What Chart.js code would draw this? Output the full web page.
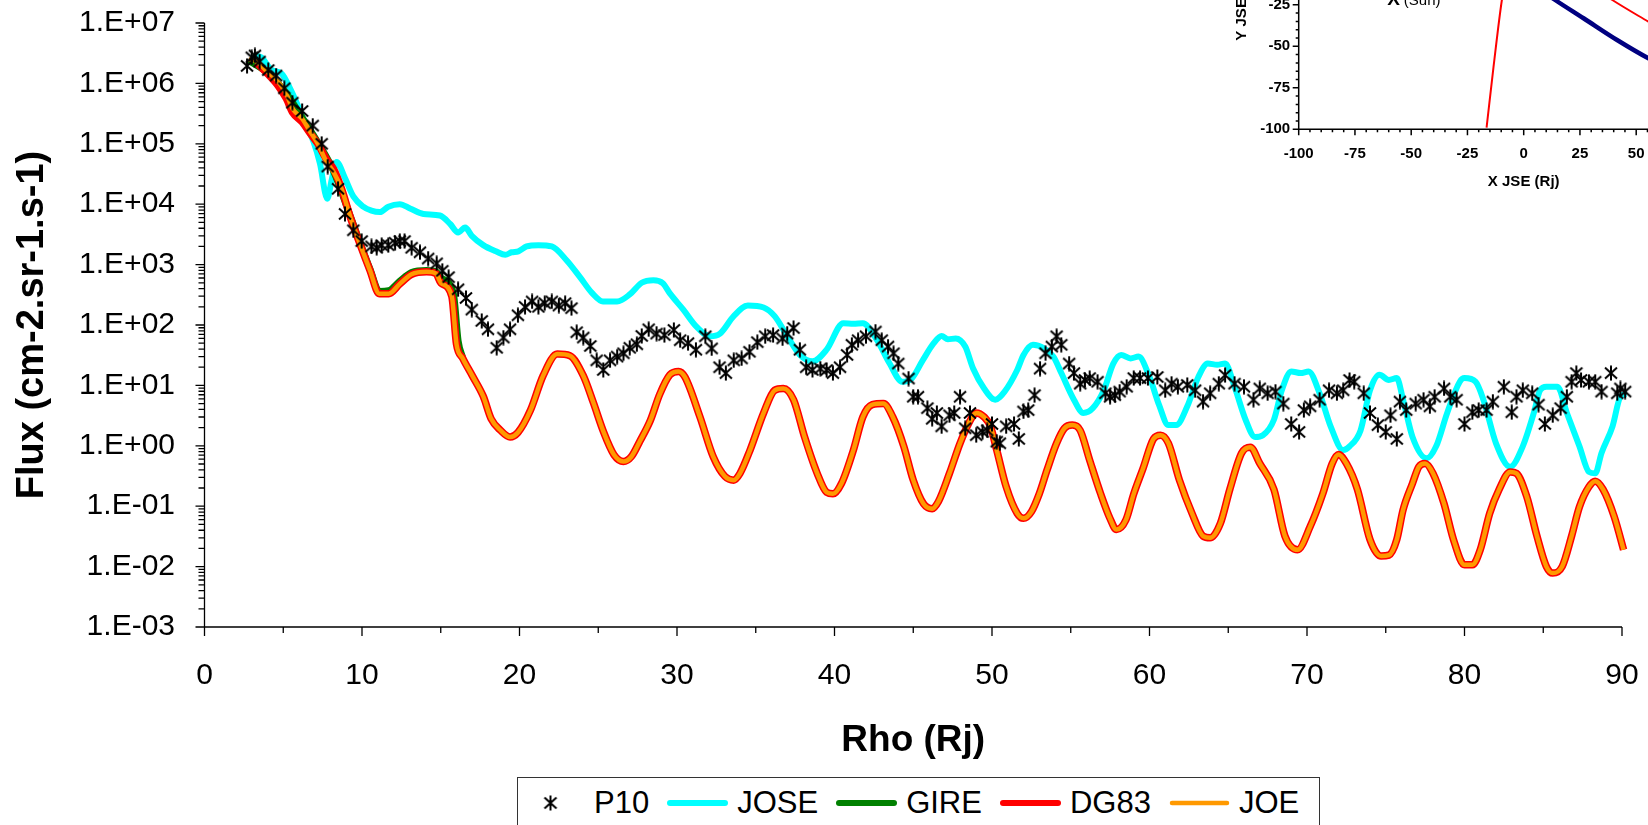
<!DOCTYPE html>
<html>
<head>
<meta charset="utf-8">
<script src="https://cdn.jsdelivr.net/npm/chart.js@4.4.1/dist/chart.umd.min.js"></script>
<style>
html, body { margin: 0; padding: 0; width: 1648px; height: 825px; overflow: hidden; background: #fff; }
#main { position: absolute; left: 0; top: 0; }
#inset { position: absolute; left: 1200px; top: -140px; background: #fff; }
#legend { position: absolute; left: 517px; top: 777px; width: 803px; height: 52px; box-sizing: border-box;
  border: 1px solid #333; background: #fff; display: flex; align-items: center; padding-left: 5px;
  font: 31px "Liberation Sans", Arial, sans-serif; color: #000; }
.item { display: flex; align-items: center; margin-right: 17px; }
.item canvas { margin-right: 8px; }
</style>
</head>
<body>
<canvas id="main" width="1648" height="825"></canvas>
<canvas id="inset" width="600" height="335"></canvas>
<div id="legend"></div>
<script>
// ---- data ----
var xTicks = [0, 10, 20, 30, 40, 50, 60, 70, 80, 90];
var yTicks = [1e-3, 1e-2, 1e-1, 1, 1e1, 1e2, 1e3, 1e4, 1e5, 1e6, 1e7];
var yTickLabels = ['1.E-03', '1.E-02', '1.E-01', '1.E+00', '1.E+01', '1.E+02', '1.E+03', '1.E+04', '1.E+05', '1.E+06', '1.E+07'];

var p10X = [2.7, 3.0, 3.2, 3.5, 4.05, 4.55, 5.07, 5.58, 6.2, 6.87,
  7.44, 7.82, 8.48, 8.92, 9.45, 9.98, 10.6, 10.93, 11.25, 11.67,
  12.1, 12.4, 12.7, 13.15, 13.68, 14.2, 14.74, 15.1, 15.5, 16.1,
  16.6, 16.97, 17.6, 18.0, 18.55, 18.98, 19.4, 19.9, 20.35, 20.8,
  21.2, 21.6, 22.05, 22.5, 22.9, 23.3, 23.63, 24.05, 24.5, 24.9,
  25.32, 25.75, 26.2, 26.6, 27.0, 27.45, 27.76, 28.2, 28.7, 29.2,
  29.8, 30.2, 30.7, 31.2, 31.8, 32.2, 32.7, 33.1, 33.6, 34.1,
  34.6, 35.1, 35.6, 36.1, 36.7, 37.0, 37.4, 37.8, 38.2, 38.6,
  39.1, 39.5, 39.9, 40.35, 40.8, 41.1, 41.5, 42.0, 42.6, 43.0,
  43.4, 43.75, 44.05, 44.7, 45.0, 45.3, 45.9, 46.2, 46.5, 46.8,
  47.3, 47.6, 47.97, 48.3, 48.6, 49.0, 49.4, 49.7, 50.0, 50.3,
  50.5, 50.9, 51.4, 51.7, 52.0, 52.3, 52.7, 53.05, 53.4, 53.8,
  54.1, 54.4, 54.9, 55.2, 55.6, 55.9, 56.2, 56.7, 57.2, 57.5,
  57.8, 58.1, 58.55, 59.0, 59.4, 59.9, 60.5, 61.0, 61.4, 61.8,
  62.4, 62.9, 63.4, 63.85, 64.4, 64.8, 65.4, 66.0, 66.6, 67.0,
  67.5, 68.0, 68.5, 69.0, 69.5, 69.8, 70.2, 70.8, 71.4, 71.9,
  72.3, 72.7, 73.0, 73.6, 74.0, 74.5, 75.0, 75.3, 75.7, 75.9,
  76.3, 76.9, 77.4, 77.8, 78.1, 78.7, 79.1, 79.5, 80.0, 80.5,
  80.9, 81.4, 81.8, 82.5, 83.0, 83.3, 83.7, 84.3, 84.7, 85.1,
  85.6, 86.1, 86.5, 86.8, 87.1, 87.4, 87.9, 88.3, 88.7, 89.3,
  89.7, 89.9, 90.2];
var p10Y = [1.95e6, 2.7e6, 2.9e6, 2.3e6, 1.66e6, 1.35e6, 8.3e5, 4.8e5, 3.5e5, 2.0e5,
  1.0e5, 4.2e4, 1.8e4, 6.9e3, 3.7e3, 2.45e3, 2.0e3, 1.9e3, 2.1e3, 2.1e3,
  2.3e3, 2.45e3, 2.45e3, 1.9e3, 1.6e3, 1.26e3, 1.05e3, 790, 620, 390,
  280, 180, 117, 85, 42, 62, 85, 145, 200, 245,
  200, 230, 245, 210, 230, 190, 76, 62, 45, 26,
  18, 26, 30, 34, 42, 48, 66, 85, 72, 68,
  83, 56, 50, 39, 65, 41, 20, 16, 26, 28,
  36, 52, 65, 68, 60, 72, 89, 39, 20, 18,
  19, 18, 16, 20, 32, 47, 56, 65, 78, 56,
  44, 34, 23, 13, 6.5, 6.5, 4.2, 2.8, 3.5, 2.1,
  3.2, 3.5, 6.5, 1.95, 3.5, 1.5, 1.7, 1.8, 2.3, 1.17,
  1.1, 2.1, 2.3, 1.3, 3.7, 3.9, 6.9, 19, 34, 44,
  65, 47, 23, 16, 10.7, 12.3, 13.2, 11.5, 7.4, 6.5,
  6.9, 7.9, 9.5, 13.2, 13.2, 13.2, 13.8, 8.3, 10.7, 9.5,
  10.2, 8.3, 5.4, 7.4, 10.7, 14.8, 10.7, 9.5, 5.8, 8.9,
  7.4, 7.9, 5.0, 2.3, 1.7, 3.9, 4.5, 5.8, 8.3, 7.4,
  8.3, 12.3, 11.5, 7.4, 3.5, 2.2, 1.7, 3.2, 1.3, 5.4,
  3.9, 5.0, 5.8, 4.5, 6.5, 8.9, 6.5, 5.8, 2.3, 3.6,
  3.9, 3.9, 5.4, 9.5, 3.6, 6.5, 8.3, 7.4, 4.8, 2.3,
  3.2, 4.2, 6.5, 11.5, 16, 12.3, 11.5, 11.5, 7.9, 16,
  7.4, 8.9, 7.9];

var joseX = [3.1, 3.6, 4.27, 4.9, 5.43, 5.85, 6.38, 6.91, 7.33, 7.8,
  8.07, 8.39, 8.92, 9.45, 10.08, 10.6, 11.14, 11.67, 12.4, 13.05,
  13.9, 14.95, 15.6, 16.1, 16.55, 16.97, 17.7, 18.5, 19.1, 19.5,
  19.93, 20.45, 21.2, 22.05, 23.0, 23.84, 24.6, 25.3, 26.2, 27.0,
  27.76, 28.5, 29.1, 29.56, 30.4, 31.25, 32.1, 32.73, 33.6, 34.5,
  35.5, 36.2, 36.96, 37.8, 38.6, 39.5, 40.56, 41.2, 41.8, 42.7,
  43.5, 44.3, 44.9, 45.6, 46.3, 46.8, 47.2, 47.7, 48.3, 48.8,
  49.5, 50.2, 50.8, 51.6, 52.0, 52.6, 53.3, 53.9, 54.4, 55.2,
  55.8, 56.4, 57.1, 57.7, 58.2, 58.8, 59.3, 60.0, 60.6, 61.2,
  61.7, 62.4, 63.1, 63.7, 64.3, 64.8, 65.4, 66.1, 66.7, 67.2,
  67.9, 68.4, 69.0, 69.6, 70.1, 70.8, 71.5, 72.3, 72.7, 73.4,
  74.0, 74.6, 75.2, 75.7, 76.1, 76.7, 77.6, 78.2, 78.9, 79.7,
  80.0, 80.7, 81.2, 82.0, 82.9, 83.7, 84.4, 84.8, 85.2, 85.9,
  86.5, 87.3, 87.9, 88.3, 88.7, 89.4, 89.9, 90.3, 90.6];
var joseY = [2.9e6, 2.7e6, 1.66e6, 1.45e6, 8.3e5, 4.8e5, 2.2e5, 1.1e5, 4.7e4, 1.23e4,
  2.5e4, 5.0e4, 2.7e4, 1.35e4, 9.1e3, 7.8e3, 7.4e3, 9.1e3, 1.0e4, 8.5e3,
  6.9e3, 6.5e3, 4.7e3, 3.4e3, 4.1e3, 3.0e3, 2.1e3, 1.66e3, 1.45e3, 1.6e3,
  1.66e3, 2.0e3, 2.1e3, 2.0e3, 1.17e3, 620, 340, 245, 245, 320,
  500, 550, 490, 330, 180, 93, 65, 72, 140, 210,
  195, 140, 68, 32, 25, 39, 107, 105, 107, 56,
  23, 11.5, 13, 26, 50, 66, 58, 60, 44, 19,
  8.9, 5.8, 7.9, 18, 32, 47, 41, 30, 16, 5.8,
  3.5, 4.2, 8.3, 23, 32, 28, 30, 13.8, 4.8, 2.2,
  2.2, 4.5, 13.8, 23, 22, 23, 9.5, 2.7, 1.4, 1.5,
  2.7, 8.3, 17, 16, 17, 7.4, 2.1, 0.85, 0.98, 1.8,
  8.3, 15, 12.3, 13.2, 5.8, 1.4, 0.62, 0.98, 3.5, 11.5,
  13.2, 11.5, 5.8, 1.1, 0.45, 0.98, 3.5, 8.3, 9.5, 9.5,
  3.5, 0.98, 0.37, 0.35, 0.76, 2.1, 6.5, 7.2, 7.2];

var gireX = [2.8, 4.0, 5.2, 6.2, 7.2, 8.2, 9.25, 9.9, 10.5, 11.1,
  11.7, 12.4, 13.15, 14.1, 14.7, 15.0, 15.8, 16.1, 16.4];
var gireY = [2.4e6, 1.5e6, 6.8e5, 2.7e5, 1.05e5, 3.5e4, 6.4e3, 2.2e3, 850, 360,
  370, 530, 740, 800, 760, 600, 330, 55, 28];

var dg83X = [3.3, 4.0, 4.7, 5.2, 5.6, 6.2, 6.7, 7.2, 7.75, 8.2, 8.7];
var dg83Y = [2.2e6, 1.45e6, 9.0e5, 5.6e5, 3.3e5, 2.3e5, 1.5e5, 1.0e5, 5.5e4, 3.8e4, 1.8e4];

var joeX = [2.8, 3.3, 4.0, 4.7, 5.2, 5.6, 6.2, 6.7, 7.2, 7.75,
  8.2, 8.7, 9.25, 9.9, 10.5, 11.1, 11.7, 12.4, 13.15, 14.1,
  14.7, 15.0, 15.7, 16.0, 16.4, 17.0, 17.7, 18.2, 18.8, 19.4,
  19.9, 20.7, 21.5, 22.4, 23.2, 24.05, 24.7, 25.3, 26.0, 26.6,
  27.1, 27.65, 28.3, 28.9, 29.55, 30.1, 30.5, 31.46, 32.3, 33.05,
  33.6, 34.0, 34.64, 35.5, 36.2, 36.75, 37.4, 38.1, 38.9, 39.5,
  39.9, 40.45, 41.2, 41.8, 42.4, 43.1, 43.7, 44.4, 45.0, 45.65,
  46.2, 46.6, 47.3, 47.97, 48.5, 49.0, 49.5, 49.9, 50.3, 50.9,
  51.6, 52.0, 52.5, 53.0, 53.5, 54.1, 54.6, 55.1, 55.6, 56.2,
  56.9, 57.5, 57.9, 58.5, 59.0, 59.6, 60.25, 60.7, 61.2, 61.9,
  62.7, 63.4, 63.85, 64.5, 65.1, 65.85, 66.4, 67.0, 67.9, 68.6,
  69.4, 70.2, 71.0, 71.6, 72.0, 72.5, 73.2, 74.0, 74.7, 75.2,
  75.7, 76.1, 76.7, 77.1, 77.5, 78.0, 78.7, 79.3, 80.0, 80.5,
  81.0, 81.6, 82.2, 82.9, 83.3, 83.95, 84.6, 85.2, 85.6, 86.2,
  86.8, 87.3, 87.9, 88.3, 88.8, 89.5, 90.1, 90.5];
var joeY = [2.5e6, 2.3e6, 1.55e6, 1.05e6, 6.6e5, 3.8e5, 2.6e5, 1.6e5, 1.0e5, 5.0e4,
  3.4e4, 1.8e4, 6.2e3, 2.1e3, 810, 330, 330, 480, 690, 760,
  710, 500, 300, 48, 28, 14.5, 6.6, 2.8, 1.8, 1.4,
  1.66, 3.9, 14.5, 33, 31, 14.5, 5.1, 1.8, 0.71, 0.55,
  0.66, 1.2, 2.6, 7.1, 15, 17, 13.8, 3.0, 0.66, 0.31,
  0.27, 0.35, 0.85, 3.5, 8.3, 8.9, 5.8, 1.4, 0.35, 0.17,
  0.16, 0.24, 0.85, 3.0, 4.8, 5.0, 3.0, 0.98, 0.27, 0.11,
  0.091, 0.12, 0.35, 1.1, 2.3, 3.5, 3.0, 2.1, 0.85, 0.21,
  0.076, 0.063, 0.081, 0.16, 0.40, 1.1, 1.95, 2.2, 1.8, 0.58,
  0.16, 0.062, 0.041, 0.059, 0.16, 0.43, 1.3, 1.5, 1.1, 0.27,
  0.076, 0.032, 0.030, 0.052, 0.19, 0.76, 0.95, 0.51, 0.19, 0.032,
  0.019, 0.046, 0.16, 0.51, 0.72, 0.51, 0.19, 0.028, 0.015, 0.0155,
  0.028, 0.087, 0.24, 0.45, 0.51, 0.35, 0.11, 0.028, 0.0107, 0.0107,
  0.019, 0.076, 0.19, 0.37, 0.35, 0.145, 0.032, 0.010, 0.0078, 0.010,
  0.032, 0.098, 0.21, 0.26, 0.19, 0.068, 0.019, 0.0078];

// inset (trajectory plot, JSE frame)
var insetXTicks = [-100, -75, -50, -25, 0, 25, 50, 75, 100];
var insetYTicks = [-100, -75, -50, -25, 0, 25, 50];
var trajX = [-16.5, -13.4, -9.7, -6, 0, 10, 25, 39.4, 55.4, 75, 100];
var trajY = [-99, -62.3, -22.1, 5, 20, 18, -9, -22.1, -35.2, -51, -70];
var mpX = [-10, 0, 14, 26.6, 41.5, 55.4, 75, 100];
var mpY = [6, -8.5, -22.1, -33.1, -46.2, -57.2, -70, -84];
var sunPos = [-60.7, -25.3];

// ---- helpers ----
var FONT = '"Liberation Sans", Arial, sans-serif';
Chart.defaults.font.family = FONT;
Chart.defaults.color = '#000';

function pts(xs, ys) {
  return xs.map(function (x, i) { return { x: x, y: ys[i] }; });
}

function makeStar() {
  var c = document.createElement('canvas');
  c.width = 16; c.height = 16;
  var g = c.getContext('2d');
  g.strokeStyle = '#000';
  g.lineWidth = 2;
  g.beginPath();
  g.moveTo(2, 2.5); g.lineTo(14, 13.5);
  g.moveTo(14, 2.5); g.lineTo(2, 13.5);
  g.moveTo(8, 0.5); g.lineTo(8, 15.5);
  g.stroke();
  return c;
}
var star = makeStar();

function axisLines(xMarks, yMarks, lw) {
  return {
    id: 'axisLines',
    beforeDatasetsDraw: function (chart) {
      var ctx = chart.ctx, a = chart.chartArea, sx = chart.scales.x, sy = chart.scales.y;
      ctx.save();
      ctx.strokeStyle = '#000';
      ctx.lineWidth = lw;
      ctx.beginPath();
      ctx.moveTo(a.left, a.top);
      ctx.lineTo(a.left, a.bottom);
      ctx.lineTo(a.right, a.bottom);
      xMarks.forEach(function (m) {
        var px = sx.getPixelForValue(m[0]);
        ctx.moveTo(px, a.bottom);
        ctx.lineTo(px, a.bottom + m[1]);
      });
      yMarks.forEach(function (m) {
        var py = sy.getPixelForValue(m[0]);
        ctx.moveTo(a.left, py);
        ctx.lineTo(a.left - m[1], py);
      });
      ctx.stroke();
      ctx.restore();
    }
  };
}

// fixed scale boxes, no extra label padding pushed into the layout
function fixX(h) {
  return function (s) { s.height = h; s.paddingLeft = 0; s.paddingRight = 0; };
}
function fixY(w) {
  return function (s) { s.width = w; s.paddingTop = 0; s.paddingBottom = 0; };
}

var mainXMarks = [];
for (var v = 0; v <= 90; v += 5) mainXMarks.push([v, v % 10 === 0 ? 9 : 6]);
var mainYMarks = [];
for (var e = -3; e < 7; e++) {
  for (var m = 1; m < 10; m++) mainYMarks.push([m * Math.pow(10, e), m === 1 ? 9 : 6]);
}
mainYMarks.push([1e7, 9]);

// ---- main chart ----
var dg83Points = pts(dg83X, dg83Y).concat(pts(joeX, joeY).filter(function (p) { return p.x > 9; }));

var mainChart = new Chart(document.getElementById('main'), {
  type: 'line',
  data: {
    datasets: [
      { label: 'P10', data: pts(p10X, p10Y), showLine: false, pointStyle: star, pointRadius: 6,
        borderColor: '#000', backgroundColor: '#000', order: 0, clip: false },
      { label: 'JOSE', data: pts(joseX, joseY), borderColor: '#00FFFF', borderWidth: 6,
        pointRadius: 0, cubicInterpolationMode: 'monotone', order: 4, clip: false },
      { label: 'GIRE', data: pts(gireX, gireY), borderColor: '#008000', borderWidth: 7,
        pointRadius: 0, cubicInterpolationMode: 'monotone', order: 3, clip: false },
      { label: 'DG83', data: dg83Points, borderColor: '#FF0000', borderWidth: 7.5,
        pointRadius: 0, cubicInterpolationMode: 'monotone', order: 2, clip: false },
      { label: 'JOE', data: pts(joeX, joeY), borderColor: '#FF9900', borderWidth: 4.5,
        pointRadius: 0, cubicInterpolationMode: 'monotone', order: 1, clip: false }
    ]
  },
  plugins: [axisLines(mainXMarks, mainYMarks, 1.3)],
  options: {
    responsive: false,
    animation: false,
    devicePixelRatio: 1,
    layout: { padding: { top: 23, right: 26, left: 0, bottom: 0 } },
    plugins: { legend: { display: false }, tooltip: { enabled: false } },
    scales: {
      x: {
        type: 'linear', min: 0, max: 90,
        afterBuildTicks: function (s) { s.ticks = xTicks.map(function (t) { return { value: t }; }); },
        afterFit: fixX(198),
        grid: { display: false, drawTicks: false },
        border: { display: false },
        ticks: { font: { size: 30 }, padding: 31, autoSkip: false, maxRotation: 0 },
        title: { display: true, text: 'Rho (Rj)', font: { size: 37, weight: 'bold' }, padding: { top: 0, bottom: 62 } }
      },
      y: {
        type: 'logarithmic', min: 1e-3, max: 1e7,
        afterBuildTicks: function (s) { s.ticks = yTicks.map(function (t) { return { value: t }; }); },
        afterFit: fixY(204.5),
        grid: { display: false, drawTicks: false },
        border: { display: false },
        ticks: { font: { size: 30 }, padding: 29.5, autoSkip: false,
          callback: function (val, i) { return yTickLabels[i]; } },
        title: { display: true, text: 'Flux (cm-2.sr-1.s-1)', font: { size: 38, weight: 'bold' }, padding: { top: 10, bottom: 0 } }
      }
    }
  }
});

// html legend from the datasets
var legend = document.getElementById('legend');
mainChart.data.datasets.forEach(function (ds) {
  var item = document.createElement('div');
  item.className = 'item';
  var c = document.createElement('canvas');
  c.width = 63; c.height = 20;
  var g = c.getContext('2d');
  if (ds.showLine === false) {
    g.drawImage(star, 31.5 - 8 - 4, 2);
  } else {
    g.strokeStyle = ds.borderColor;
    g.lineWidth = Math.min(ds.borderWidth, 6);
    g.lineCap = 'round';
    g.beginPath();
    g.moveTo(4, 10); g.lineTo(59, 10);
    g.stroke();
  }
  var t = document.createElement('span');
  t.textContent = ds.label;
  item.appendChild(c);
  item.appendChild(t);
  legend.appendChild(item);
});

// ---- inset chart ----
var insetXMarks = [];
for (var ix = -100; ix <= 100; ix += 5) insetXMarks.push([ix, ix % 25 === 0 ? 6 : 3]);
var insetYMarks = [];
for (var iy = -100; iy <= 50; iy += 5) insetYMarks.push([iy, iy % 25 === 0 ? 6 : 3]);

var sunLabel = {
  id: 'sunLabel',
  afterDraw: function (chart) {
    var ctx = chart.ctx;
    var px = chart.scales.x.getPixelForValue(sunPos[0]);
    var py = chart.scales.y.getPixelForValue(sunPos[1]);
    ctx.save();
    ctx.fillStyle = '#000';
    ctx.textBaseline = 'alphabetic';
    ctx.font = 'bold 19px ' + FONT;
    ctx.fillText('X', px, py);
    var w = ctx.measureText('X').width;
    ctx.font = '15px ' + FONT;
    ctx.fillText('(Sun)', px + w + 4, py);
    ctx.restore();
  }
};

new Chart(document.getElementById('inset'), {
  type: 'line',
  data: {
    datasets: [
      { label: 'trajectory', data: pts(trajX, trajY), borderColor: '#FF0000', borderWidth: 2,
        pointRadius: 0, cubicInterpolationMode: 'monotone' },
      { label: 'boundary', data: pts(mpX, mpY), borderColor: '#000080', borderWidth: 4.5,
        pointRadius: 0, cubicInterpolationMode: 'monotone' }
    ]
  },
  plugins: [axisLines(insetXMarks, insetYMarks, 1.5), sunLabel],
  options: {
    responsive: false,
    animation: false,
    devicePixelRatio: 1,
    layout: { padding: { top: 20.3, right: 51.3, left: 0, bottom: 0 } },
    plugins: { legend: { display: false }, tooltip: { enabled: false } },
    scales: {
      x: {
        type: 'linear', min: -100, max: 100,
        afterBuildTicks: function (s) { s.ticks = insetXTicks.map(function (t) { return { value: t }; }); },
        afterFit: fixX(65.7),
        grid: { display: false, drawTicks: false },
        border: { display: false },
        ticks: { font: { size: 15, weight: 'bold' }, padding: 15.5, autoSkip: false, maxRotation: 0 },
        title: { display: true, text: 'X JSE (Rj)', font: { size: 15, weight: 'bold' }, padding: { top: 0, bottom: 4 } }
      },
      y: {
        type: 'linear', min: -100, max: 50,
        afterBuildTicks: function (s) { s.ticks = insetYTicks.map(function (t) { return { value: t }; }); },
        afterFit: fixY(98.7),
        grid: { display: false, drawTicks: false },
        border: { display: false },
        ticks: { font: { size: 15, weight: 'bold' }, padding: 8.5, autoSkip: false },
        title: { display: true, text: 'Y JSE (Rj)', font: { size: 15, weight: 'bold' }, padding: { top: 32.7, bottom: 0 } }
      }
    }
  }
});
</script>
</body>
</html>
